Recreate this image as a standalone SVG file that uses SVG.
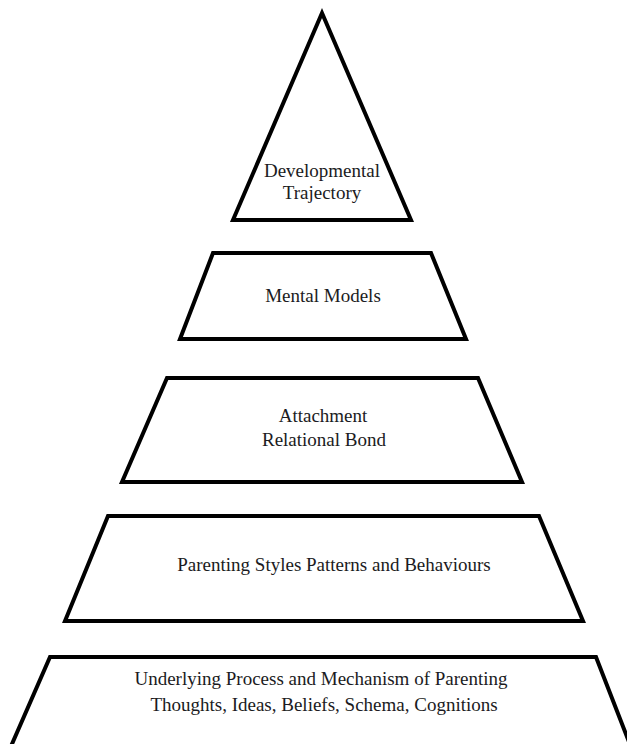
<svg xmlns="http://www.w3.org/2000/svg" width="627" height="744" viewBox="0 0 627 744">
<style>
.shape{fill:#fff;stroke:#000;stroke-width:4;stroke-linejoin:miter}
.t{font-family:"Liberation Serif","DejaVu Serif",serif;font-size:19px;fill:#1b1b22;text-anchor:middle}
</style>
<rect width="627" height="744" fill="#fff"/>
<g id="trajectory">
<polygon class="shape" points="322,13 411,220 233,220"/>
<text class="t" x="322" y="177">Developmental</text>
<text class="t" x="322" y="199">Trajectory</text>
</g>
<g id="mental-models">
<polygon class="shape" points="213,253 431,253 466,339 180,339"/>
<text class="t" x="323" y="302">Mental Models</text>
</g>
<g id="attachment">
<polygon class="shape" points="167,378 478,378 522,482 122,482"/>
<text class="t" x="323" y="422">Attachment</text>
<text class="t" x="324" y="446">Relational Bond</text>
</g>
<g id="parenting-styles">
<polygon class="shape" points="108,516 539,516 583,621 65,621"/>
<text class="t" x="334" y="571">Parenting Styles Patterns and Behaviours</text>
</g>
<g id="underlying">
<polygon class="shape" points="50,657 596,657 636,760 5,760"/>
<text class="t" x="321" y="685">Underlying Process and Mechanism of Parenting</text>
<text class="t" x="324" y="711">Thoughts, Ideas, Beliefs, Schema, Cognitions</text>
</g>
<g id="connectors"/>
</svg>
